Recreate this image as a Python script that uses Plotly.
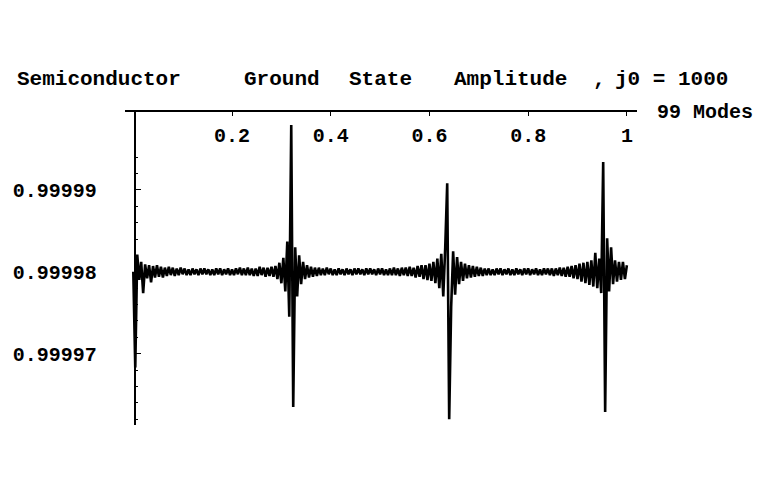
import numpy as np
import plotly.graph_objects as go

# Sample positions along the chain (fraction of its length), 99-mode calculation
n_samples = 251
positions = np.linspace(0.0, 1.0, n_samples)

# Ground-state amplitude: offsets from 0.99998 in units of 1e-7
baseline = 0.99998
offsets_e7 = [
    0, -117, 21, -10, 12, -26, 9, -8, 8, -13,
    7, -7, 8, -6, 6, -7, 5, -5, 6, -4,
    5, -5, 4, -4, 5, -3, 4, -4, 3, -4,
    4, -3, 3, -4, 4, -3, 4, -3, 3, -4,
    3, -4, 4, -3, 4, -4, 3, -3, 4, -4,
    3, -4, 4, -3, 5, -4, 4, -4, 5, -4,
    4, -5, 4, -5, 6, -4, 5, -6, 5, -5,
    6, -6, 7, -9, 11, -14, 17, -24, 37, -55,
    179, -165, 30, -30, 20, -15, 12, -9, 8, -7,
    6, -6, 5, -5, 5, -4, 4, -4, 5, -3,
    4, -4, 3, -4, 4, -3, 3, -4, 4, -3,
    3, -4, 4, -3, 4, -3, 3, -4, 4, -3,
    4, -3, 3, -4, 4, -3, 4, -4, 3, -4,
    4, -4, 5, -4, 4, -5, 5, -4, 5, -5,
    6, -5, 5, -7, 7, -6, 8, -9, 8, -10,
    10, -11, 12, -14, 16, -20, 22, -30, 30, 108,
    -180, -43, 25, -28, 18, -15, 12, -11, 10, -8,
    8, -7, 7, -6, 6, -5, 5, -5, 4, -4,
    4, -4, 3, -4, 4, -3, 4, -4, 3, -3,
    4, -4, 3, -4, 4, -3, 3, -4, 4, -3,
    4, -4, 3, -3, 4, -4, 3, -4, 4, -3,
    4, -4, 4, -5, 4, -4, 5, -5, 5, -6,
    6, -6, 7, -8, 8, -9, 10, -12, 11, -14,
    12, -16, 14, -18, 23, -20, 16, -26, 134, -171,
    41, -24, 30, -15, 14, -12, 12, -10, 12, -9, 8,
]
amplitude = baseline + np.array(offsets_e7) * 1e-7

x_tick_vals = [0.2, 0.4, 0.6, 0.8, 1.0]
x_tick_text = ["0.2", "0.4", "0.6", "0.8", "1"]
y_tick_vals = [0.99997, 0.99998, 0.99999]
y_tick_text = ["0.99997", "0.99998", "0.99999"]

title_words = ["Semiconductor", "Ground", "State", "Amplitude", ",", "j0 = 1000"]
axis_label = "99 Modes"

W, H = 775, 484
L, R, T, B = 125, 138, 112, 59
PW, PH = W - L - R, H - T - B

FONT = "Liberation Mono"
TEXT_WEIGHT = "bold"


def px_to_paper(px, py):
    return (px - L) / PW, (H - B - py) / PH


fig = go.Figure()
fig.add_trace(go.Scatter(
    x=positions, y=amplitude, mode="lines",
    line=dict(color="black", width=2.6),
    hoverinfo="skip",
))

fig.update_layout(
    width=W, height=H,
    margin=dict(l=L, r=R, t=T, b=B),
    plot_bgcolor="white", paper_bgcolor="white",
    showlegend=False,
    font=dict(family=FONT, color="black", size=20),
)

tick_font = dict(family=FONT, size=20, color="black", weight=TEXT_WEIGHT)

fig.update_xaxes(
    range=[-0.0168, 1.0205], side="top",
    showline=True, linecolor="black", linewidth=1.5,
    showgrid=False, zeroline=False,
    ticks="inside", ticklen=4, tickcolor="black", tickwidth=1.2,
    tickvals=x_tick_vals, ticktext=x_tick_text,
    ticklabelposition="inside", ticklabelstandoff=13,
    tickfont=tick_font,
)

yaxis_pos, _ = px_to_paper(134.5, 0)
fig.update_yaxes(
    range=[0.9999613, 0.9999995],
    anchor="free", position=yaxis_pos,
    showline=True, linecolor="black", linewidth=1.5,
    showgrid=False, zeroline=False,
    ticks="inside", ticklen=6, tickcolor="black", tickwidth=1.2,
    tickvals=y_tick_vals, ticktext=y_tick_text,
    ticklabelstandoff=33,
    tickfont=tick_font,
    minor=dict(dtick=2e-6, tick0=0.99998, ticks="inside", ticklen=3,
               tickcolor="black", tickwidth=1),
)

title_left_px = [15, 242, 347, 452, 591, 613]
for word, lx in zip(title_words, title_left_px):
    ax, ay = px_to_paper(lx, 79)
    fig.add_annotation(
        x=ax, y=ay, xref="paper", yref="paper", text=word,
        showarrow=False, xanchor="left", yanchor="middle",
        font=dict(family=FONT, size=21, color="black", weight=TEXT_WEIGHT),
    )

ax, ay = px_to_paper(655, 112)
fig.add_annotation(
    x=ax, y=ay, xref="paper", yref="paper", text=axis_label,
    showarrow=False, xanchor="left", yanchor="middle",
    font=dict(family=FONT, size=20, color="black", weight=TEXT_WEIGHT),
)

fig.write_html("out.html")
